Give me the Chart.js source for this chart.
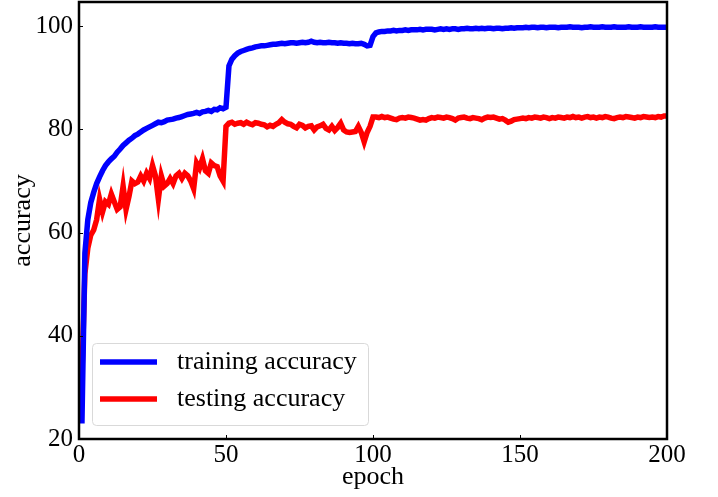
<!DOCTYPE html>
<html>
<head>
<meta charset="utf-8">
<script src="https://cdn.jsdelivr.net/npm/chart.js@4.4.1/dist/chart.umd.min.js"></script>
<style>
  body { margin: 0; background: #fff; }
  #accChart { display: block; }
</style>
</head>
<body>
<canvas id="accChart" width="718" height="497"></canvas>
<script>
const seriesLabels = ['training accuracy', 'testing accuracy'];

// epochs 1..200
const trainAcc = [
  23.0, 56.0, 62.5, 65.8, 67.8, 69.5, 70.8, 72.0, 73.0, 73.7,
  74.3, 74.8, 75.6, 76.2, 76.9, 77.4, 77.9, 78.3, 78.8, 79.1,
  79.5, 79.9, 80.2, 80.5, 80.8, 81.1, 81.4, 81.3, 81.5, 81.8,
  81.9, 82.0, 82.2, 82.3, 82.5, 82.7, 82.9, 83.0, 83.1, 83.3,
  83.1, 83.4, 83.5, 83.7, 83.5, 83.9, 83.8, 84.2, 84.0, 84.3,
  92.3, 93.6, 94.3, 94.8, 95.1, 95.3, 95.5, 95.7, 95.8, 96.0,
  96.1, 96.2, 96.2, 96.3, 96.4, 96.5, 96.5, 96.6, 96.7, 96.6,
  96.7, 96.8, 96.8, 96.7, 96.8, 96.9, 96.8, 96.9, 97.1, 96.9,
  96.8, 96.9, 96.8, 96.8, 96.9, 96.8, 96.8, 96.7, 96.8, 96.7,
  96.7, 96.6, 96.7, 96.6, 96.6, 96.7, 96.5, 96.2, 96.3, 98.0,
  98.7, 98.9, 99.0, 99.0, 99.1, 99.1, 99.2, 99.1, 99.2, 99.2,
  99.3, 99.2, 99.3, 99.3, 99.3, 99.4, 99.3, 99.4, 99.4, 99.4,
  99.3, 99.4, 99.5, 99.4, 99.5, 99.4, 99.5, 99.5, 99.4, 99.5,
  99.5, 99.6, 99.5, 99.5, 99.6, 99.5, 99.6, 99.5, 99.6, 99.6,
  99.5, 99.6, 99.6, 99.5, 99.6, 99.6, 99.7, 99.6, 99.7, 99.7,
  99.7, 99.8, 99.7, 99.8, 99.8, 99.7, 99.8, 99.8, 99.7, 99.8,
  99.8, 99.8, 99.7, 99.8, 99.8, 99.8, 99.9, 99.8, 99.8, 99.8,
  99.7, 99.8, 99.8, 99.9, 99.8, 99.8, 99.8, 99.9, 99.8, 99.8,
  99.8, 99.9, 99.8, 99.8, 99.8, 99.8, 99.9, 99.8, 99.8, 99.8,
  99.9, 99.8, 99.8, 99.8, 99.8, 99.9, 99.8, 99.8, 99.8, 99.8
];

const testAcc = [
  32.4, 52.0, 57.0, 59.5, 60.5, 62.5, 66.5, 64.0, 66.0, 65.5,
  67.5, 66.0, 64.5, 65.0, 69.0, 64.5, 67.0, 70.0, 69.5, 69.8,
  71.0, 70.0, 71.5, 70.5, 73.0, 71.0, 66.5, 71.0, 69.0, 69.5,
  70.5, 69.5, 71.0, 71.5, 70.5, 71.5, 71.0, 70.0, 68.5, 73.5,
  72.5, 74.3, 72.0, 71.5, 73.5, 73.0, 72.8, 71.0, 70.0, 80.6,
  81.2, 81.4, 81.0, 81.2, 81.3, 81.0, 81.4, 81.1, 80.9, 81.3,
  81.2, 81.0, 80.9, 80.5, 80.8, 80.6, 81.0, 81.3, 81.9, 81.4,
  81.1, 81.0, 80.6, 80.3, 81.0, 80.8, 80.3, 80.6, 80.7, 79.9,
  80.5, 80.7, 81.0, 80.2, 79.9, 80.6, 79.8, 80.4, 81.2, 79.9,
  79.5, 79.4, 79.5, 79.6, 80.6, 79.4, 77.6, 79.4, 80.6, 82.4,
  82.4, 82.3, 82.5, 82.3, 82.4, 82.2, 82.0, 81.9, 82.2, 82.3,
  82.2, 82.4, 82.3, 82.2, 82.0, 81.8, 81.9, 81.8, 82.1, 82.3,
  82.2, 82.4, 82.3, 82.2, 82.4, 82.3, 82.1, 81.8, 82.2, 82.3,
  82.4, 82.2, 82.1, 82.3, 82.2, 82.1, 81.9, 82.2, 82.4, 82.3,
  82.4, 82.2, 82.0, 82.1, 81.8, 81.4, 81.6, 81.9, 82.0, 82.1,
  82.2, 82.1, 82.3, 82.2, 82.4, 82.3, 82.2, 82.4, 82.3, 82.1,
  82.3, 82.2, 82.4, 82.3, 82.2, 82.4, 82.3, 82.5, 82.3, 82.4,
  82.2, 82.4, 82.5, 82.3, 82.4, 82.2, 82.4, 82.3, 82.5, 82.4,
  82.2, 82.1, 82.3, 82.4, 82.3, 82.5, 82.4, 82.3, 82.2, 82.4,
  82.3, 82.5, 82.4, 82.3, 82.4, 82.3, 82.5, 82.4, 82.6, 82.6
];

const epochs = trainAcc.map((_, i) => i + 1);
const xTicks = [0, 50, 100, 150, 200];
const yTicks = [20, 40, 60, 80, 100];

const FONT = '"Liberation Serif", "Times New Roman", serif';

// black box round the plot, small inward ticks, and the framed legend
const framePlugin = {
  id: 'frame',
  afterDraw(chart) {
    const { ctx, chartArea: a, scales: { x, y } } = chart;
    ctx.save();
    ctx.strokeStyle = '#000';
    ctx.lineWidth = 1;
    ctx.beginPath();
    x.ticks.forEach(t => {
      const px = Math.round(x.getPixelForValue(t.value)) + 0.5;
      ctx.moveTo(px, a.bottom); ctx.lineTo(px, a.bottom - 4);
    });
    y.ticks.forEach(t => {
      const py = Math.round(y.getPixelForValue(t.value)) + 0.5;
      ctx.moveTo(a.left, py); ctx.lineTo(a.left + 4, py);
    });
    ctx.stroke();

    ctx.lineWidth = 2.5;
    ctx.strokeRect(a.left, a.top, a.right - a.left, a.bottom - a.top);

    // legend
    const bx = 92, by = 343, bw = 276, bh = 82;
    ctx.fillStyle = 'rgba(255,255,255,0.8)';
    ctx.strokeStyle = '#d9d9d9';
    ctx.lineWidth = 1;
    ctx.beginPath();
    ctx.roundRect(bx + 0.5, by + 0.5, bw, bh, 4);
    ctx.fill();
    ctx.stroke();

    ctx.font = '26px ' + FONT;
    ctx.textBaseline = 'middle';
    ctx.textAlign = 'left';
    chart.data.datasets.forEach((ds, i) => {
      const ly = 362 + i * 37;
      ctx.strokeStyle = ds.borderColor;
      ctx.lineWidth = 5.5;
      ctx.beginPath();
      ctx.moveTo(100, ly); ctx.lineTo(157, ly);
      ctx.stroke();
      ctx.fillStyle = '#000';
      ctx.fillText(ds.label, 177, ly);
    });
    ctx.restore();
  }
};

new Chart(document.getElementById('accChart'), {
  type: 'line',
  data: {
    datasets: [
      {
        label: seriesLabels[0],
        data: epochs.map((e, i) => ({ x: e, y: trainAcc[i] })),
        borderColor: '#0000ff',
        borderWidth: 5.5,
        pointRadius: 0,
        tension: 0
      },
      {
        label: seriesLabels[1],
        data: epochs.map((e, i) => ({ x: e, y: testAcc[i] })),
        borderColor: '#ff0000',
        borderWidth: 5.5,
        pointRadius: 0,
        tension: 0
      }
    ]
  },
  options: {
    responsive: false,
    animation: false,
    layout: { padding: { top: 2, right: 51, left: 0, bottom: 0 } },
    plugins: {
      legend: { display: false },
      tooltip: { enabled: false }
    },
    scales: {
      x: {
        type: 'linear',
        min: 0,
        max: 200,
        afterBuildTicks: s => { s.ticks = xTicks.map(v => ({ value: v })); },
        afterFit: s => { s.height = 58; s.paddingLeft = 0; s.paddingRight = 0; },
        grid: { display: false, drawTicks: false },
        border: { display: false },
        ticks: { color: '#000', padding: 1, maxRotation: 0, font: { family: FONT, size: 25 } },
        title: {
          display: true,
          text: 'epoch',
          color: '#000',
          padding: { top: 0, bottom: 4 },
          font: { family: FONT, size: 26 }
        }
      },
      y: {
        min: 20,
        max: 104.7,
        afterBuildTicks: s => { s.ticks = yTicks.map(v => ({ value: v })); },
        afterFit: s => { s.width = 79; s.paddingTop = 0; s.paddingBottom = 0; },
        grid: { display: false, drawTicks: false },
        border: { display: false },
        ticks: { color: '#000', padding: 6, font: { family: FONT, size: 25 } },
        title: {
          display: true,
          text: 'accuracy',
          color: '#000',
          padding: { top: 8, bottom: 0 },
          font: { family: FONT, size: 26 }
        }
      }
    }
  },
  plugins: [framePlugin]
});
</script>
</body>
</html>
